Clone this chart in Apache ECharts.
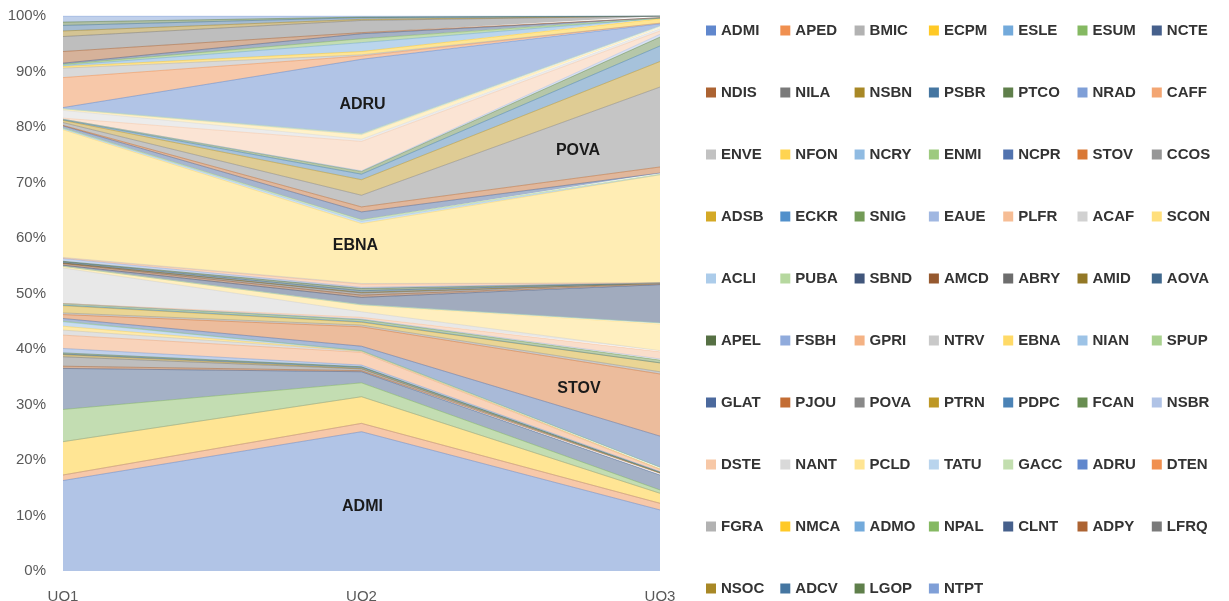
<!DOCTYPE html>
<html>
<head>
<meta charset="utf-8">
<script src="https://cdn.jsdelivr.net/npm/echarts@6/dist/echarts.min.js"></script>
<style>
  html, body { margin: 0; padding: 0; background: #ffffff; }
  #chart { width: 1229px; height: 601px; }
</style>
</head>
<body>
<div id="chart"></div>
<script>
// Categories on the horizontal axis
const categories = ['UO1', 'UO2', 'UO3'];

// Series, in stacking order (first one sits at the bottom)
const seriesNames = [
  'ADMI', 'APED', 'BMIC', 'ECPM', 'ESLE', 'ESUM', 'NCTE',
  'NDIS', 'NILA', 'NSBN', 'PSBR', 'PTCO', 'NRAD', 'CAFF',
  'ENVE', 'NFON', 'NCRY', 'ENMI', 'NCPR', 'STOV', 'CCOS',
  'ADSB', 'ECKR', 'SNIG', 'EAUE', 'PLFR', 'ACAF', 'SCON',
  'ACLI', 'PUBA', 'SBND', 'AMCD', 'ABRY', 'AMID', 'AOVA',
  'APEL', 'FSBH', 'GPRI', 'NTRV', 'EBNA', 'NIAN', 'SPUP',
  'GLAT', 'PJOU', 'POVA', 'PTRN', 'PDPC', 'FCAN', 'NSBR',
  'DSTE', 'NANT', 'PCLD', 'TATU', 'GACC', 'ADRU', 'DTEN',
  'FGRA', 'NMCA', 'ADMO', 'NPAL', 'CLNT', 'ADPY', 'LFRQ',
  'NSOC', 'ADCV', 'LGOP', 'NTPT'
];

// Share (%) of each series in UO1, same order as seriesNames
const shareUO1 = [
  16.3, 1.0, 0, 6.0, 0, 5.8, 7.4, 0.4, 1.7, 0.4,
  0.1, 0.2, 0.8, 2.4, 0.9, 0.7, 0.8, 0.1, 0.5, 0.7,
  0.3, 1.3, 0.1, 0.3, 0, 0, 6.4, 0.3, 0, 0,
  0.2, 0.3, 0.1, 0, 0.2, 0.1, 0.5, 0.1, 0.1, 23.0,
  0.2, 0.1, 0.4, 0.1, 0.5, 0.4, 0.1, 0.1, 0, 0.2,
  1.4, 0.2, 0.1, 0, 0.2, 5.4, 1.7, 0.3, 0.2, 0.2,
  0.2, 2.1, 2.7, 1.0, 1.0, 0.6, 1.1
];

// Share (%) of each series in UO2
const shareUO2 = [
  25.1, 1.5, 0, 4.8, 0, 2.5, 2.0, 0.2, 0.3, 0.1,
  0.2, 0.1, 0.3, 2.3, 0.2, 0, 0.1, 0, 0.8, 3.5,
  0.3, 0.5, 0.1, 0.4, 0.1, 0.3, 1.0, 1.2, 0.1, 0,
  1.3, 0.4, 0.4, 0.1, 0.3, 0.4, 0.2, 0.6, 0.1, 10.8,
  0.4, 0.3, 1.4, 0.9, 2.1, 2.8, 1.0, 0.5, 0.1, 5.3,
  0.4, 0.8, 0.1, 0.1, 13.4, 0.6, 0.2, 0.6, 1.6, 0.7,
  0.9, 0.2, 2.2, 0.2, 0.3, 0.1, 0.2
];

// Share (%) of each series in UO3
const shareUO3 = [
  11.0, 1.2, 0, 1.8, 0, 0.6, 2.7, 0.3, 0.1, 0,
  0.1, 0, 0.1, 0.4, 0.1, 0, 0.3, 0, 5.6, 11.2,
  0.4, 1.6, 0, 0.5, 0.2, 1.3, 0.2, 4.8, 0.2, 0,
  6.9, 0.1, 0.1, 0, 0.1, 0, 0, 0, 0, 19.5,
  0, 0.1, 0.2, 1.1, 14.4, 4.6, 2.8, 1.6, 0.5, 0.6,
  0.4, 0.2, 0.2, 0.1, 0.4, 0.1, 0, 0.8, 0.1, 0,
  0.1, 0, 0.3, 0, 0, 0, 0
];

// Series whose name is written inside its band, and the category where it sits
const bandLabels = [
  { name: 'ADRU', at: 'UO2', offset: [1, 8] },
  { name: 'EBNA', at: 'UO2', offset: [-6, -8] },
  { name: 'ADMI', at: 'UO2', offset: [1, 5] },
  { name: 'POVA', at: 'UO3', offset: [-82, 24] },
  { name: 'STOV', at: 'UO3', offset: [-81, -16] }
];

// ---- colours: Office accents cycled through Excel's luminance variants ----
const accents = ['#4472C4', '#ED7D31', '#A5A5A5', '#FFC000', '#5B9BD5', '#70AD47'];
const lumVariants = [[1, 0], [0.6, 0], [0.8, 0.2], [0.8, 0], [0.6, 0.4], [0.5, 0], [0.7, 0.3], [0.7, 0], [0.5, 0.5]];

function hexToHsl(hex) {
  const r = parseInt(hex.slice(1, 3), 16) / 255;
  const g = parseInt(hex.slice(3, 5), 16) / 255;
  const b = parseInt(hex.slice(5, 7), 16) / 255;
  const max = Math.max(r, g, b), min = Math.min(r, g, b);
  const l = (max + min) / 2;
  let h = 0, s = 0;
  if (max !== min) {
    const d = max - min;
    s = l > 0.5 ? d / (2 - max - min) : d / (max + min);
    if (max === r) h = ((g - b) / d + (g < b ? 6 : 0));
    else if (max === g) h = (b - r) / d + 2;
    else h = (r - g) / d + 4;
    h /= 6;
  }
  return [h, s, l];
}
function hslToHex(h, s, l) {
  function hue2rgb(p, q, t) {
    if (t < 0) t += 1;
    if (t > 1) t -= 1;
    if (t < 1 / 6) return p + (q - p) * 6 * t;
    if (t < 1 / 2) return q;
    if (t < 2 / 3) return p + (q - p) * (2 / 3 - t) * 6;
    return p;
  }
  let r, g, b;
  if (s === 0) { r = g = b = l; }
  else {
    const q = l < 0.5 ? l * (1 + s) : l + s - l * s;
    const p = 2 * l - q;
    r = hue2rgb(p, q, h + 1 / 3);
    g = hue2rgb(p, q, h);
    b = hue2rgb(p, q, h - 1 / 3);
  }
  const toHex = v => Math.round(Math.min(1, Math.max(0, v)) * 255).toString(16).padStart(2, '0');
  return '#' + toHex(r) + toHex(g) + toHex(b);
}
function seriesColor(i) {
  const [mod, off] = lumVariants[Math.floor(i / 6) % lumVariants.length];
  const [h, s, l] = hexToHsl(accents[i % 6]);
  return hslToHex(h, s, Math.min(1, l * mod + off));
}

// ---- 100% stacking: each category column is scaled to a total of 100 ----
const columns = [shareUO1, shareUO2, shareUO3];
const totals = columns.map(col => col.reduce((a, b) => a + b, 0));
const percent = columns.map((col, c) => col.map(v => v / totals[c] * 100));

function bandMiddle(seriesIndex, catIndex) {
  let below = 0;
  for (let k = 0; k < seriesIndex; k++) below += percent[catIndex][k];
  return below + percent[catIndex][seriesIndex] / 2;
}

const fontFamily = '"Liberation Sans", Arial, sans-serif';

const series = seriesNames.map((name, i) => {
  const color = seriesColor(i);
  const marks = bandLabels
    .filter(b => b.name === name)
    .map(b => {
      const c = categories.indexOf(b.at);
      return {
        coord: [b.at, bandMiddle(i, c)],
        label: { offset: b.offset }
      };
    });
  const s = {
    name: name,
    type: 'line',
    stack: 'share',
    symbol: 'none',
    showSymbol: false,
    data: categories.map((_, c) => percent[c][i]),
    itemStyle: { color: color },
    lineStyle: { width: 1, color: color, opacity: 0.4 },
    areaStyle: { color: color, opacity: 0.42 },
    emphasis: { disabled: true },
    animation: false
  };
  if (marks.length) {
    s.markPoint = {
      symbol: 'circle',
      symbolSize: 1,
      itemStyle: { color: 'rgba(0,0,0,0)' },
      label: {
        show: true,
        position: 'inside',
        formatter: name,
        color: '#1a1a1a',
        fontSize: 16,
        fontWeight: 'bold',
        fontFamily: fontFamily
      },
      data: marks,
      animation: false
    };
  }
  return s;
});

// Legend laid out as a 7-column table, one vertical legend per column
const legendColumns = 7;
const legends = [];
for (let c = 0; c < legendColumns; c++) {
  const names = seriesNames.filter((_, i) => i % legendColumns === c);
  legends.push({
    type: 'plain',
    orient: 'vertical',
    left: 706 + c * 74.3,
    top: 23,
    height: 578,
    padding: 0,
    itemGap: 47,
    itemWidth: 10,
    itemHeight: 10,
    icon: 'rect',
    selectedMode: false,
    itemStyle: { opacity: 0.85 },
    textStyle: {
      fontSize: 15,
      fontWeight: 'bold',
      color: '#333333',
      lineHeight: 15,
      fontFamily: fontFamily
    },
    data: names
  });
}

const chart = echarts.init(document.getElementById('chart'), null, { renderer: 'canvas' });
chart.setOption({
  animation: false,
  backgroundColor: '#ffffff',
  grid: { left: 63, right: 569, top: 16, bottom: 30, containLabel: false, outerBoundsMode: 'none' },
  legend: legends,
  tooltip: { show: false },
  xAxis: {
    type: 'category',
    data: categories,
    boundaryGap: false,
    axisLine: { show: false },
    axisTick: { show: false },
    axisLabel: { color: '#595959', fontSize: 15, margin: 18, fontFamily: fontFamily }
  },
  yAxis: {
    type: 'value',
    min: 0,
    max: 100,
    interval: 10,
    axisLine: { show: false },
    axisTick: { show: false },
    splitLine: { show: false },
    axisLabel: { formatter: '{value}%', color: '#595959', fontSize: 15, margin: 17, fontFamily: fontFamily }
  },
  series: series
});
</script>
</body>
</html>
